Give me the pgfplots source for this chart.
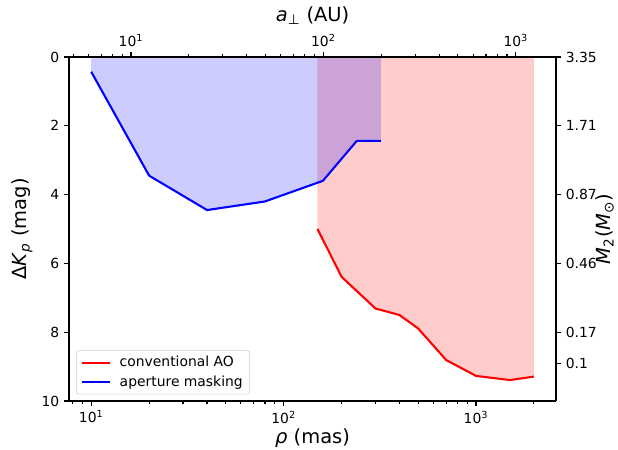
\documentclass[border=0pt]{standalone}
\usepackage{pgfplots}
\pgfplotsset{compat=1.18}
\usepackage{fontspec}
\setmainfont{DejaVu Sans}
\pgfplotsset{
 mybase/.style={
  scale only axis, width=350.6pt, height=247.7pt,
  ymin=0, ymax=10, y dir=reverse,
  tick align=outside, major tick length=3.5pt, minor tick length=2pt,
  every tick/.style={black, line width=0.8pt},
  tick label style={font=\fontsize{10}{12}\selectfont},
  label style={font=\fontsize{14}{16}\selectfont},
  axis line style={-, line width=0.8pt},
  /pgf/number format/assume math mode=true,
 }}

\begin{document}
\begin{tikzpicture}
\begin{semilogxaxis}[mybase, name=main,
  xmin=7.67, xmax=2606,
  axis x line*=bottom, axis y line*=left,
  xtick={10,100,1000},
  xticklabels={10\textsuperscript{1},10\textsuperscript{2},10\textsuperscript{3}},
  minor xtick={8,9,20,30,40,50,60,70,80,90,200,300,400,500,600,700,800,900,2000},
  ytick={0,2,4,6,8,10},
  xlabel={\textit{ρ} (mas)},
  ylabel={Δ\textit{K}\textsubscript{\textit{p}} (mag)},
  xlabel style={at={(axis description cs:0.5,-0.066)}, anchor=north},
  ylabel style={at={(axis description cs:-0.0965,0.5)}, anchor=center},
  legend style={at={(axis description cs:0.0144,0.0195)}, anchor=south west,
    font=\fontsize{10}{12}\selectfont, draw=black!20, rounded corners=2pt,
    fill=white, inner xsep=3pt, inner ysep=2pt, row sep=1pt},
  legend cell align=left,
  legend image code/.code={\draw[#1, line width=1.5pt] (0cm,0cm) -- (0.72cm,0cm); \path (0.87cm,0cm);},
]
% fills
\addplot[draw=none, fill=red, fill opacity=0.2, forget plot] coordinates {
 (150,0) (150,5.0) (200,6.39) (300,7.31) (400,7.5) (500,7.89) (700,8.81)
 (1000,9.27) (1500,9.39) (2000,9.29) (2000,0)} \closedcycle;
\addplot[draw=none, fill=blue, fill opacity=0.2, forget plot] coordinates {
 (10,0) (10,0.43) (20,3.45) (40,4.45) (80,4.2) (160,3.6) (240,2.44) (320,2.44) (320,0)} \closedcycle;
% lines
\addplot[red, line width=1.5pt, line join=round] coordinates {
 (150,5.0) (200,6.39) (300,7.31) (400,7.5) (500,7.89) (700,8.81)
 (1000,9.27) (1500,9.39) (2000,9.29)};
\addlegendentry{conventional AO}
\addplot[blue, line width=1.5pt, line join=round] coordinates {
 (10,0.43) (20,3.45) (40,4.45) (80,4.2) (160,3.6) (240,2.44) (320,2.44)};
\addlegendentry{aperture masking}
\end{semilogxaxis}
\begin{semilogxaxis}[mybase,
  xmin=4.763, xmax=1618,
  axis x line*=top, axis y line*=right,
  xtick={10,100,1000},
  xticklabels={10\textsuperscript{1},10\textsuperscript{2},10\textsuperscript{3}},
  minor xtick={5,6,7,8,9,20,30,40,50,60,70,80,90,200,300,400,500,600,700,800,900},
  ytick={0,2,4,6,8,8.9},
  yticklabels={3.35,1.71,0.87,0.46,0.17,0.1},
  xlabel={\textit{a}\textsubscript{⊥} (AU)},
  ylabel={\textit{M}\textsubscript{2}(\textit{M}\textsubscript{⊙})},
  xlabel style={at={(axis description cs:0.5,1.12)}, anchor=center},
  ylabel style={at={(axis description cs:1.1,0.5)}, anchor=center},
]
\end{semilogxaxis}
\pgfresetboundingbox
\path ([shift={(-49.7pt,-34.6pt)}]main.south west) rectangle ([shift={(44.6pt,41pt)}]main.north east);
\end{tikzpicture}
\end{document}
